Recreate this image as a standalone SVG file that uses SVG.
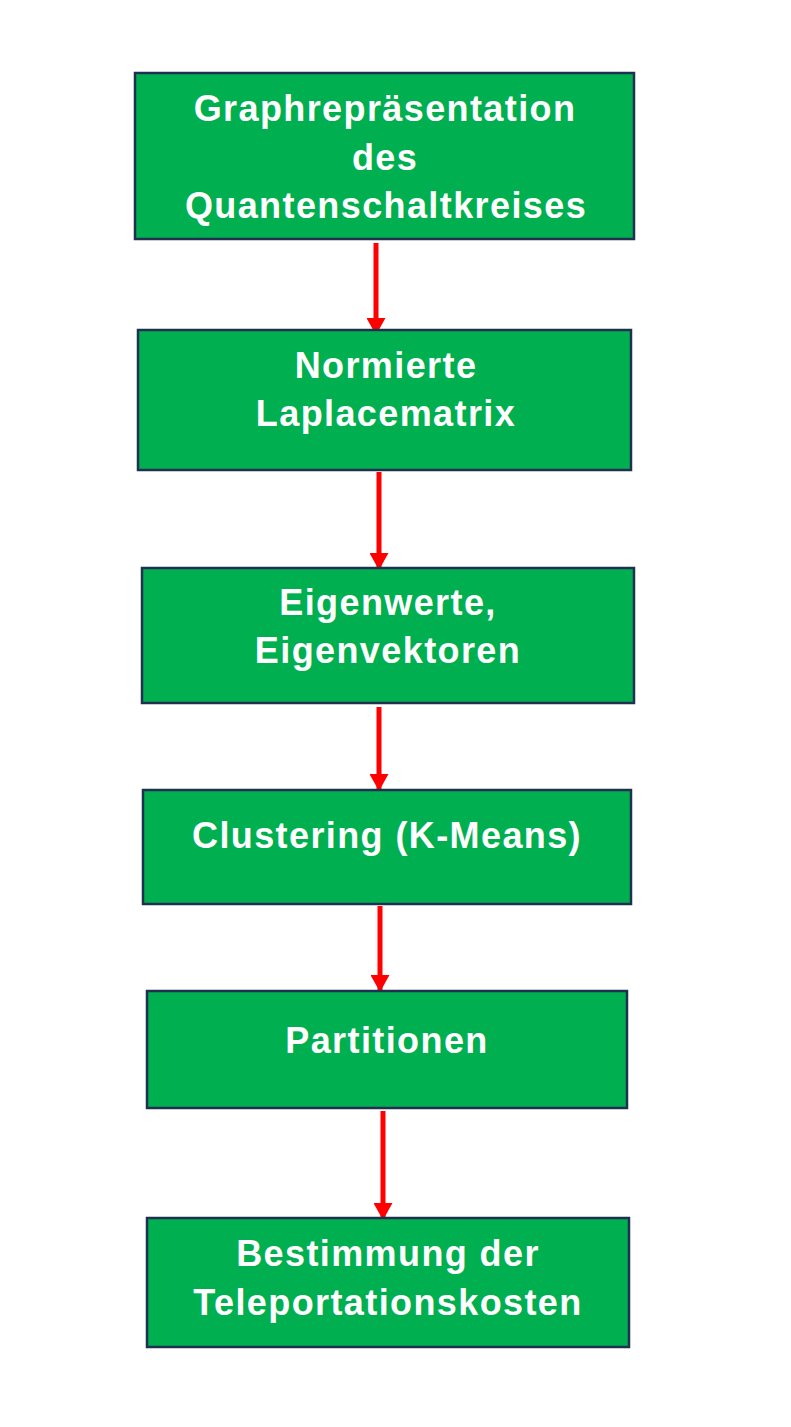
<svg xmlns="http://www.w3.org/2000/svg" width="791" height="1427" viewBox="0 0 791 1427">
<style>
.box{fill:#00B050;stroke:#1F3050;stroke-width:2.5}
.t{font-family:"Liberation Sans",Arial,sans-serif;font-weight:bold;font-size:36px;fill:#fff;text-anchor:middle;letter-spacing:1.4px}
.c{stroke:#FF0000;stroke-width:5;fill:none}
</style>
<defs>
<marker id="ah" markerUnits="userSpaceOnUse" markerWidth="17" markerHeight="19" refX="17" refY="9.5" orient="auto">
<path d="M0,0 L17,9.5 L0,19 Z" fill="#FF0000"/>
</marker>
</defs>
<rect width="791" height="1427" fill="#fff"/>
<g id="connectors">
<line class="c" x1="376" y1="243" x2="376" y2="335" marker-end="url(#ah)"/>
<line class="c" x1="379" y1="472" x2="379" y2="570" marker-end="url(#ah)"/>
<line class="c" x1="379" y1="707" x2="379" y2="791" marker-end="url(#ah)"/>
<line class="c" x1="380" y1="906" x2="380" y2="992" marker-end="url(#ah)"/>
<line class="c" x1="383" y1="1111" x2="383" y2="1220" marker-end="url(#ah)"/>
</g>
<g id="n1">
<rect class="box" x="135" y="73" width="499" height="166"/>
<text class="t" x="385" y="121">Graphrepräsentation</text>
<text class="t" x="385" y="170">des</text>
<text class="t" x="386" y="218">Quantenschaltkreises</text>
</g>
<g id="n2">
<rect class="box" x="138" y="330" width="493" height="140"/>
<text class="t" x="386" y="378">Normierte</text>
<text class="t" x="386" y="426">Laplacematrix</text>
</g>
<g id="n3">
<rect class="box" x="142" y="568" width="492" height="135"/>
<text class="t" x="388" y="615">Eigenwerte,</text>
<text class="t" x="388" y="663">Eigenvektoren</text>
</g>
<g id="n4">
<rect class="box" x="143" y="790" width="488" height="114"/>
<text class="t" x="387" y="848">Clustering (K-Means)</text>
</g>
<g id="n5">
<rect class="box" x="147" y="991" width="480" height="117"/>
<text class="t" x="387" y="1053">Partitionen</text>
</g>
<g id="n6">
<rect class="box" x="147" y="1218" width="482" height="129"/>
<text class="t" x="388" y="1266">Bestimmung der</text>
<text class="t" x="388" y="1315">Teleportationskosten</text>
</g>
</svg>
